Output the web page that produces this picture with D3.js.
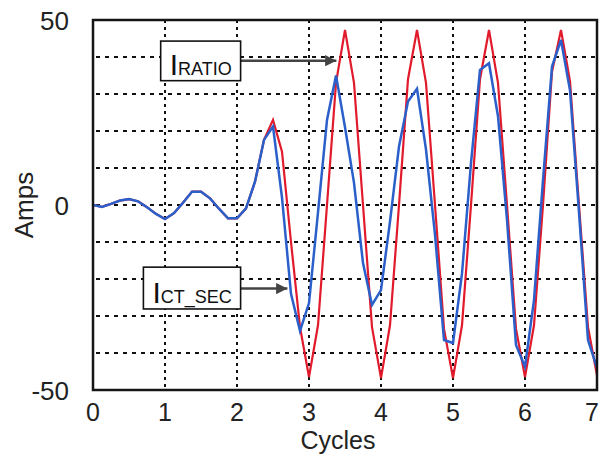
<!DOCTYPE html>
<html>
<head>
<meta charset="utf-8">
<script src="https://cdn.jsdelivr.net/npm/d3@7/dist/d3.min.js"></script>
<style>
  body { margin: 0; background: #fff; }
  text { font-family: "Liberation Sans", Arial, Helvetica, sans-serif; }
</style>
</head>
<body>
<div id="chart"></div>
<script>
// samples are taken 8 times per cycle
const sampleStep = 0.125;

// CT secondary current (blue), one value per sample, Amps
const ctSec = [
  0, -0.5, 0.3, 1.2, 1.6, 1.0, -0.6, -2.4,
  -3.8, -2.2, 0.6, 3.6, 3.6, 1.8, -1.0, -3.6,
  -3.6, -0.9, 6.3, 17.6, 21.2, 2, -24, -34,
  -26.5, -2, 23, 35, 21, 6, -15.7, -27,
  -23, -4.5, 15.8, 28, 31.4, 15, -8, -36.5,
  -37.3, -18.5, 11.3, 36.5, 38.3, 24, -4, -37.8,
  -43.7, -25.7, 6.7, 37.4, 44.6, 31, -2, -36.5,
  -44
];

// ideal ratio current (red)
const iRatio = [
  0, -0.5, 0.3, 1.2, 1.6, 1.0, -0.6, -2.4,
  -3.8, -2.2, 0.6, 3.6, 3.6, 1.8, -1.0, -3.6,
  -3.6, -0.9, 6.3, 17.6, 23, 14.4, -10, -33,
  -46.5, -32.5, 0, 33, 47.3, 33, 0, -33,
  -46.8, -32.5, 0, 34, 47.3, 33, 0, -33.5,
  -46.8, -32.5, 0, 34, 47.3, 33, 0, -33.5,
  -46.5, -32.5, 0, 36, 47.3, 33.5, 0, -33,
  -46
];

const xTicks = [0, 1, 2, 3, 4, 5, 6, 7];
const xGrid = [1, 2, 3, 4, 5, 6];
const yTickLabels = [50, 0, -50];
const yGrid = [40, 30, 20, 10, 0, -10, -20, -30, -40];

const width = 600, height = 455;
const margin = { top: 20, right: 3, bottom: 65, left: 93 };
const innerW = width - margin.left - margin.right;
const innerH = height - margin.top - margin.bottom;

const svg = d3.select("#chart").append("svg")
    .attr("width", width)
    .attr("height", height);

const g = svg.append("g")
    .attr("transform", `translate(${margin.left},${margin.top})`);

const x = d3.scaleLinear().domain([0, 7]).range([0, innerW]);
const y = d3.scaleLinear().domain([-50, 50]).range([innerH, 0]);

// dotted grid
g.append("g").selectAll("line")
    .data(xGrid)
    .enter().append("line")
    .attr("x1", d => x(d)).attr("x2", d => x(d))
    .attr("y1", 0).attr("y2", innerH)
    .attr("stroke", "#111")
    .attr("stroke-width", 2)
    .attr("stroke-dasharray", "3,4");

g.append("g").selectAll("line")
    .data(yGrid)
    .enter().append("line")
    .attr("x1", 0).attr("x2", innerW)
    .attr("y1", d => y(d)).attr("y2", d => y(d))
    .attr("stroke", "#111")
    .attr("stroke-width", 2)
    .attr("stroke-dasharray", "4,5")
    .attr("stroke-dashoffset", -3);

// curves, clipped to the plot box
g.append("clipPath").attr("id", "plot-clip")
    .append("rect").attr("width", innerW).attr("height", innerH);

const line = d3.line()
    .x((d, i) => x(i * sampleStep))
    .y(d => y(d));

const curves = g.append("g").attr("clip-path", "url(#plot-clip)");

curves.append("path")
    .datum(iRatio)
    .attr("fill", "none")
    .attr("stroke", "#e11a2c")
    .attr("stroke-width", 2.2)
    .attr("d", line);

curves.append("path")
    .datum(ctSec)
    .attr("fill", "none")
    .attr("stroke", "#2b5fc9")
    .attr("stroke-width", 2.5)
    .attr("d", line);

// frame
g.append("rect")
    .attr("width", innerW)
    .attr("height", innerH)
    .attr("fill", "none")
    .attr("stroke", "#151515")
    .attr("stroke-width", 2.5);

// axis labels
const lastTick = xTicks[xTicks.length - 1];
g.append("g").selectAll("text")
    .data(xTicks)
    .enter().append("text")
    .attr("x", d => d === lastTick ? width - margin.left - 1 : x(d))
    .attr("y", innerH + 31)
    .attr("text-anchor", d => d === lastTick ? "end" : "middle")
    .style("font-size", "25px")
    .style("fill", "#222")
    .text(d => d);

g.append("g").selectAll("text")
    .data(yTickLabels)
    .enter().append("text")
    .attr("x", -24)
    .attr("y", d => y(d) + 10)
    .attr("text-anchor", "end")
    .style("font-size", "26px")
    .style("fill", "#222")
    .text(d => d);

g.append("text")
    .attr("x", innerW / 2 - 7)
    .attr("y", innerH + 59)
    .attr("text-anchor", "middle")
    .style("font-size", "25px")
    .style("fill", "#222")
    .text("Cycles");

g.append("text")
    .attr("transform", `translate(-60,${y(0)}) rotate(-90)`)
    .attr("text-anchor", "middle")
    .style("font-size", "26px")
    .style("fill", "#222")
    .text("Amps");

// callouts: box + arrow, positioned in data units
svg.append("defs").append("marker")
    .attr("id", "arrow")
    .attr("viewBox", "0 0 10 10")
    .attr("refX", 10).attr("refY", 5)
    .attr("markerWidth", 5.5).attr("markerHeight", 4.5)
    .attr("markerUnits", "strokeWidth")
    .attr("orient", "auto")
    .append("path")
    .attr("d", "M0,0L10,5L0,10Z")
    .attr("fill", "#444");

function callout(box, tip, sub) {
    const x0 = x(box[0]), x1 = x(box[1]);
    const y0 = y(box[2]), y1 = y(box[3]);
    const cg = g.append("g");
    cg.append("line")
        .attr("x1", x1).attr("y1", y(tip[1]))
        .attr("x2", x(tip[0])).attr("y2", y(tip[1]))
        .attr("stroke", "#444")
        .attr("stroke-width", 2.5)
        .attr("marker-end", "url(#arrow)");
    cg.append("rect")
        .attr("x", x0).attr("y", y0)
        .attr("width", x1 - x0).attr("height", y1 - y0)
        .attr("fill", "#fff")
        .attr("stroke", "#111")
        .attr("stroke-width", 1.6);
    const t = cg.append("text")
        .attr("x", x0 + 9)
        .attr("y", y1 - 6)
        .style("fill", "#111");
    t.append("tspan").style("font-size", "30px").text("I");
    t.append("tspan").style("font-size", "18px").text(sub);
}

callout([0.94, 2.05, 44.3, 33.6], [3.38, 39.0], "RATIO");
callout([0.70, 2.05, -16.8, -28.1], [2.70, -22.6], "CT_SEC");
</script>
</body>
</html>
